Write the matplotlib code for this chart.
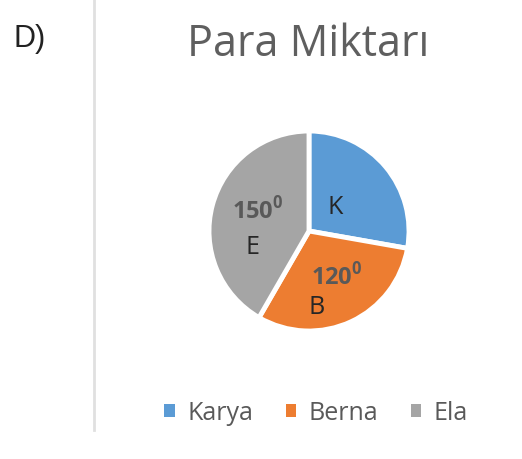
import matplotlib
matplotlib.use("Agg")
import matplotlib.pyplot as plt
from matplotlib.patches import Patch
from matplotlib.lines import Line2D

# data (slice sizes as drawn in the reference, degrees)
names = ["Karya", "Berna", "Ela"]
letters = ["K", "B", "E"]
angles = [100, 110, 150]
angle_labels = [None, "120", "150"]
colors = ["#5B9BD5", "#ED7D31", "#A5A5A5"]

W, H = 522, 459
fig = plt.figure(figsize=(W / 100, H / 100), dpi=100)

# option letter + separator line
fig.text(13 / W, 1 - 39 / H, "D)", fontsize=22, family="Liberation Sans",
         color="#222222", va="center", ha="left")
fig.add_artist(Line2D([94 / W, 94 / W], [1 - 430 / H, 1.0],
                      transform=fig.transFigure, color="#e0e0e0", lw=2))

# title
fig.text(308 / W, 1 - 45 / H, "Para Miktarı", fontsize=31, family="Open Sans",
         color="#5f5f5f", ha="center", va="center")

# pie
cx, cy, r = 309, 231, 105
ax = fig.add_axes([(cx - r) / W, (H - cy - r) / H, 2 * r / W, 2 * r / H])
wedges, _ = ax.pie(angles, colors=colors, startangle=90, counterclock=False,
                   wedgeprops=dict(edgecolor="white", linewidth=3.5))
ax.set_xlim(-1.05, 1.05)
ax.set_ylim(-1.05, 1.05)
ax.set_aspect("equal")
ax.axis("off")

# in-slice texts
letter_pos = [(0.26, 0.23), (0.08, -0.77), (-0.57, -0.17)]
deg_pos = [None, (0.28, -0.46), (-0.51, 0.20)]
for i in range(len(names)):
    x, y = letter_pos[i]
    ax.text(x, y, letters[i], fontsize=18, family="Open Sans", color="#262626",
            ha="center", va="center")
    if angle_labels[i]:
        x, y = deg_pos[i]
        ax.text(x, y, angle_labels[i] + r"$^{\mathregular{0}}$", fontsize=17,
                family="Open Sans", fontweight="bold", color="#595959",
                ha="center", va="center")

# legend
handles = [Patch(facecolor=c, edgecolor="none") for c in colors]
leg = fig.legend(handles, names, loc="center", ncol=3,
                 bbox_to_anchor=(316 / W, 1 - 413 / H), frameon=False,
                 prop={"family": "Open Sans", "size": 18},
                 handlelength=0.42, handleheight=0.42, handletextpad=0.5,
                 columnspacing=1.3)
for t in leg.get_texts():
    t.set_color("#595959")

fig.savefig("out.png", dpi=100)
